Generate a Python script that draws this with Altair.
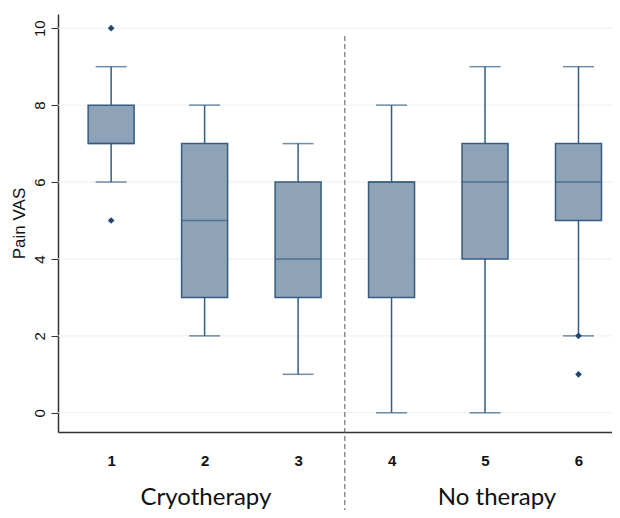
import altair as alt
import pandas as pd

groups = [1, 2, 3, 4, 5, 6]
lower = [6, 2, 1, 0, 0, 2]
q1 = [7, 3, 3, 3, 4, 5]
median = [7, 5, 4, 6, 6, 6]
q3 = [8, 7, 6, 6, 7, 7]
upper = [9, 8, 7, 8, 9, 9]
outlier_group = [1, 1, 6, 6]
outlier_value = [10, 5, 2, 1]
y_ticks = [0, 2, 4, 6, 8, 10]
panel_labels = ["Cryotherapy", "No therapy"]

box = pd.DataFrame({"g": groups, "lo": lower, "q1": q1, "med": median,
                    "q3": q3, "hi": upper})
outl = pd.DataFrame({"g": outlier_group, "v": outlier_value})
grid_df = pd.DataFrame({"t": y_ticks})

FILL = "#8ea3b8"
STROKE = "#355d82"
DOT = "#1d4876"

xs = alt.Scale(domain=[0.485, 6.305], nice=False, zero=False)
ys = alt.Scale(domain=[-0.5, 10.37], nice=False, zero=False)

xax = alt.Axis(values=groups, format="d", ticks=False, labelPadding=21,
               labelFontWeight="bold", labelFontSize=15, labelFont="Liberation Sans",
               labelColor="#111", grid=False, domainColor="#333", domainWidth=1.5,
               title=None)
yax = alt.Axis(values=y_ticks, format="d", tickSize=7, tickColor="#333",
               labelAngle=-90, labelAlign="center", labelBaseline="bottom",
               labelPadding=4, labelFontSize=15, labelFont="Liberation Sans",
               labelColor="#111", grid=False,
               domainColor="#333", domainWidth=1.5, title="Pain VAS",
               titleFont="Liberation Sans", titleFontSize=17, titleFontWeight="normal",
               titleColor="#111", titlePadding=4)


def X(f):
    return alt.X(f, scale=xs, axis=xax)


def Y(f):
    return alt.Y(f, scale=ys, axis=yax)


base = alt.Chart(box)

grid = alt.Chart(grid_df).mark_rule(color="#eceff1", strokeWidth=1).encode(
    y=Y("t:Q"))
wlow = base.mark_rule(color=STROKE, strokeWidth=1.5).encode(
    x=X("g:Q"), y=Y("lo:Q"), y2="q1:Q")
whigh = base.mark_rule(color=STROKE, strokeWidth=1.5).encode(
    x=X("g:Q"), y=Y("q3:Q"), y2="hi:Q")
cap_lo = base.mark_tick(orient="horizontal", size=31, thickness=1.5, color=STROKE).encode(
    x=X("g:Q"), y=Y("lo:Q"))
cap_hi = base.mark_tick(orient="horizontal", size=31, thickness=1.5, color=STROKE).encode(
    x=X("g:Q"), y=Y("hi:Q"))
bars = base.mark_bar(size=46, fill=FILL, stroke=STROKE, strokeWidth=1.5).encode(
    x=X("g:Q"), y=Y("q1:Q"), y2="q3:Q")
med = base.mark_tick(orient="horizontal", size=46, thickness=1.5, color=STROKE).encode(
    x=X("g:Q"), y=Y("med:Q"))
pts = alt.Chart(outl).mark_point(shape="diamond", filled=True, size=45,
                                 color=DOT, opacity=1).encode(
    x=X("g:Q"), y=Y("v:Q"))

divider = alt.Chart(pd.DataFrame({"x": [3.5]})).mark_rule(
    color="#555", strokeDash=[5, 3], strokeWidth=1).encode(
    x=X("x:Q"), y=alt.value(22), y2=alt.value(510))

label_px = [148, 439]
text_layers = [
    alt.Chart(box).mark_text(text=t, font="Lato", fontSize=24, color="#111",
                             baseline="alphabetic", align="center").encode(
        x=alt.value(px), y=alt.value(491)).transform_filter("datum.g == 1")
    for t, px in zip(panel_labels, label_px)
]

chart = alt.layer(grid, wlow, whigh, cap_lo, cap_hi, bars, med, pts, divider,
                  *text_layers).properties(
    width=554, height=418,
    padding={"left": 50, "top": 6, "right": 0, "bottom": 78},
    autosize=alt.AutoSizeParams(type="none"),
    background="white",
).configure_view(stroke="transparent", strokeWidth=0).configure_axis(grid=False)

chart.save("out.html", embed_options={"renderer": "svg", "actions": False})
